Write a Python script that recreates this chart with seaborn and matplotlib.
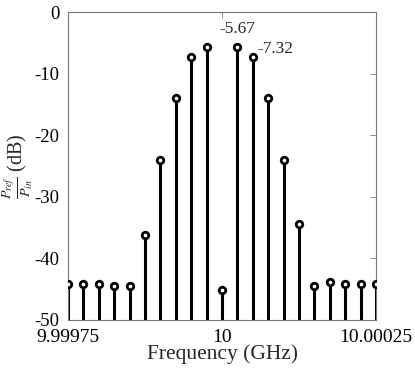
import numpy as np
import pandas as pd
import matplotlib
matplotlib.use('Agg')
import matplotlib.pyplot as plt
import seaborn as sns

# data
freq_start = 9.99975
freq_step = 0.000025
n_points = 21
power_db = [-44.2, -44.2, -44.2, -44.5, -44.5, -36.2, -24.0, -14.0, -7.32, -5.67,
            -45.2, -5.67, -7.32, -13.9, -24.0, -34.4, -44.5, -43.9, -44.2, -44.2, -44.2]
xtick_vals = [9.99975, 10, 10.00025]
xtick_labels = ['9.99975', '10', '10.00025']
ytick_vals = [-50, -40, -30, -20, -10, 0]
labels_idx = [11, 12]
labels_txt = ['-5.67', '-7.32']

freq = freq_start + freq_step * np.arange(n_points)
df = pd.DataFrame({'freq': freq, 'power': power_db})

sns.set_style('white')
plt.rcParams['font.family'] = ['Liberation Serif', 'DejaVu Serif']
plt.rcParams['mathtext.fontset'] = 'stix'
plt.rcParams['axes.unicode_minus'] = False

fig = plt.figure(figsize=(4.15, 3.76), dpi=100)
ax = fig.add_axes([0.164, 0.149, 0.742, 0.819])

ax.vlines(df['freq'], -50, df['power'], color='black', linewidth=2.2, zorder=2)
sns.scatterplot(data=df, x='freq', y='power', ax=ax, marker='o', s=22,
                facecolor='white', edgecolor='black', linewidth=2.0, zorder=3, legend=False)

ax.set_xlim(9.99975, 10.00025)
ax.set_ylim(-50, 0)
ax.set_xticks(xtick_vals)
ax.set_xticklabels(xtick_labels)
ax.set_yticks(ytick_vals)
ax.tick_params(direction='in', length=4, width=0.6, colors='#777777', labelcolor='black',
               labelsize=14, top=True, right=True)
ax.tick_params(axis='x', pad=6.5)
ax.tick_params(axis='y', pad=6, labelsize=13.5)
for sp in ax.spines.values():
    sp.set_color('#777777')
    sp.set_linewidth(0.8)

ax.set_xlabel('Frequency (GHz)', fontsize=15.5, labelpad=-1)
ax.set_ylabel(r'$\frac{P_{ref}}{P_{in}}$ (dB)', fontsize=14.5, labelpad=0)
ax.yaxis.set_label_coords(-0.108, 0.5)

ax.annotate(labels_txt[0], (df['freq'][labels_idx[0]], df['power'][labels_idx[0]]),
            xytext=(0, 7), textcoords='offset points', ha='center', va='bottom', fontsize=12.5)
ax.annotate(labels_txt[1], (df['freq'][labels_idx[1]], df['power'][labels_idx[1]]),
            xytext=(3, 0), textcoords='offset points', ha='left', va='bottom', fontsize=12.5)

fig.savefig('out.png', dpi=100)
